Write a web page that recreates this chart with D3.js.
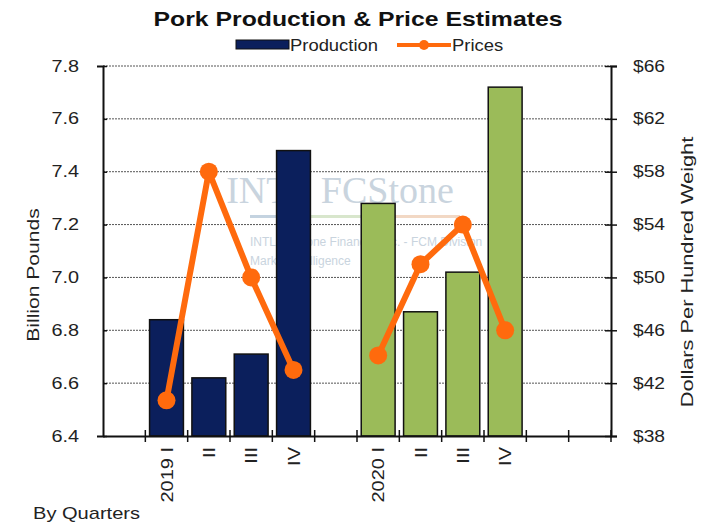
<!DOCTYPE html>
<html>
<head>
<meta charset="utf-8">
<script src="https://cdn.jsdelivr.net/npm/d3@7"></script>
<style>
  body { margin: 0; background: #fff; }
  svg { font-family: "Liberation Sans", Arial, sans-serif; }
</style>
</head>
<body>
<svg width="707" height="524"></svg>
<script>
// quarters incl. the empty slots of the original chart
const quarters = ["s0", "2019 I", "II", "III", "IV", "s5", "2020 I", "II ", "III ", "IV ", "s10", "s11"];
const quarterLabels = ["", "2019 I", "II", "III", "IV", "", "2020 I", "II", "III", "IV", "", ""];
const production = [null, 6.84, 6.62, 6.71, 7.48, null, 7.28, 6.87, 7.02, 7.72, null, null];
const prices = [null, 40.7, 58.0, 50.0, 43.0, null, 44.1, 51.0, 54.0, 46.0, null, null];
const leftTicks = [6.4, 6.6, 6.8, 7.0, 7.2, 7.4, 7.6, 7.8];
const rightTicks = [38, 42, 46, 50, 54, 58, 62, 66];

const svg = d3.select("svg");
const plotL = 103, plotR = 611, plotT = 66, plotB = 436;

// the source font is wider than Liberation Sans, so widen text along its baseline
function stretch(sel, k) {
  sel.each(function() {
    const w = this.getComputedTextLength();
    d3.select(this).attr("textLength", w * k).attr("lengthAdjust", "spacingAndGlyphs");
  });
}

const x = d3.scaleBand().domain(quarters).range([plotL, plotR]).paddingInner(0.2).paddingOuter(0.1);
const xSlot = d3.scaleBand().domain(quarters).range([plotL, plotR]);
const y = d3.scaleLinear().domain([6.4, 7.8]).range([plotB, plotT]);
const y2 = d3.scaleLinear().domain([38, 66]).range([plotB, plotT]);

// watermark
const wm = svg.append("g").attr("fill", "#c9d4de");
wm.append("text").attr("x", 340).attr("y", 203).attr("text-anchor", "middle")
  .style("font-family", "'Liberation Serif', serif").style("font-size", "38px")
  .text("INTL FCStone");
wm.append("text").attr("x", 250).attr("y", 246).style("font-size", "12px")
  .text("INTL FCStone Financial Inc. - FCM Division");
wm.append("text").attr("x", 250).attr("y", 265).style("font-size", "12px")
  .text("Market Intelligence");
[["#c4d3e0", 250, 300], ["#d8e6cc", 300, 380], ["#f2d8c4", 380, 460]].forEach(function(c) {
  wm.append("rect").attr("x", c[1]).attr("y", 215).attr("width", c[2] - c[1]).attr("height", 3).attr("fill", c[0]);
});

// gridlines
svg.append("g").selectAll("line")
  .data(leftTicks.slice(1))
  .join("line")
    .attr("x1", plotL).attr("x2", plotR)
    .attr("y1", d => y(d)).attr("y2", d => y(d))
    .attr("stroke", "#555").attr("stroke-width", 1).attr("stroke-dasharray", "2,1");

// bars
svg.append("g").selectAll("rect")
  .data(quarters.map((q, i) => ({ q: q, v: production[i], i: i })).filter(d => d.v != null))
  .join("rect")
    .attr("x", d => x(d.q))
    .attr("width", x.bandwidth())
    .attr("y", d => y(d.v))
    .attr("height", d => plotB - y(d.v))
    .attr("fill", d => d.i < 5 ? "#0b1f5c" : "#9bbb59")
    .attr("stroke", "#111").attr("stroke-width", 1.5);

// axes
const axL = svg.append("g").attr("transform", `translate(${plotL},0)`)
  .call(d3.axisLeft(y).tickValues(leftTicks).tickFormat(d3.format(".1f")).tickSize(6).tickPadding(18));
const axR = svg.append("g").attr("transform", `translate(${plotR},0)`)
  .call(d3.axisRight(y2).tickValues(rightTicks).tickFormat(d => "$" + d).tickSize(6).tickPadding(16));
const axB = svg.append("g").attr("transform", `translate(0,${plotB})`)
  .call(d3.axisBottom(xSlot).tickValues([]).tickSizeOuter(0));
[axL, axR, axB].forEach(function(a) {
  a.selectAll("path.domain").attr("stroke", "#111").attr("stroke-width", 2);
  a.selectAll(".tick line").attr("stroke", "#111").attr("stroke-width", 1.5);
  a.selectAll("text").attr("fill", "#222").style("font-size", "16px");
});
axR.selectAll(".tick line").attr("x1", -6);
axL.selectAll(".tick line").attr("x2", 4);
stretch(axL.selectAll("text"), 1.24);
stretch(axR.selectAll("text"), 1.2);

// category ticks and labels on slot boundaries
const boundaries = quarters.slice(1).map(q => xSlot(q)).concat([plotR]);
svg.append("g").selectAll("line")
  .data(boundaries)
  .join("line")
    .attr("x1", d => d).attr("x2", d => d)
    .attr("y1", plotB - 6).attr("y2", plotB + 6)
    .attr("stroke", "#111").attr("stroke-width", 1.5);
const xLabels = svg.append("g").selectAll("text")
  .data(quarters.map((q, i) => ({ q: q, label: quarterLabels[i] })).filter(d => d.label))
  .join("text")
    .attr("transform", d => `translate(${xSlot(d.q) + xSlot.bandwidth() / 2 + 6},447) rotate(-90)`)
    .attr("text-anchor", "end")
    .attr("fill", "#222").style("font-size", "16px")
    .text(d => d.label);
stretch(xLabels, 1.25);

// price line
const pts = quarters.map((q, i) => ({ q: q, v: prices[i] })).filter(d => d.v != null);
const line = d3.line().x(d => xSlot(d.q) + xSlot.bandwidth() / 2).y(d => y2(d.v));
[pts.slice(0, 4), pts.slice(4)].forEach(function(seg) {
  svg.append("path").datum(seg).attr("d", line)
    .attr("fill", "none").attr("stroke", "#ff6a0d").attr("stroke-width", 6).attr("stroke-linejoin", "round");
});
svg.append("g").selectAll("circle")
  .data(pts)
  .join("circle")
    .attr("cx", d => xSlot(d.q) + xSlot.bandwidth() / 2)
    .attr("cy", d => y2(d.v))
    .attr("r", 9)
    .attr("fill", "#ff6a0d");

// titles
const title = svg.append("text").attr("x", 358).attr("y", 26).attr("text-anchor", "middle")
  .attr("fill", "#111").style("font-size", "21px").style("font-weight", "bold")
  .text("Pork Production & Price Estimates");
stretch(title, 1.18);
const yTitleL = svg.append("text").attr("transform", "translate(39,275) rotate(-90)").attr("text-anchor", "middle")
  .attr("fill", "#222").style("font-size", "17px").text("Billion Pounds");
stretch(yTitleL, 1.24);
const yTitleR = svg.append("text").attr("transform", "translate(693,272) rotate(-90)").attr("text-anchor", "middle")
  .attr("fill", "#222").style("font-size", "17px").text("Dollars Per Hundred Weight");
stretch(yTitleR, 1.28);
const xTitle = svg.append("text").attr("x", 33).attr("y", 519)
  .attr("fill", "#222").style("font-size", "17px").text("By Quarters");
stretch(xTitle, 1.18);

// legend
const lg = svg.append("g");
lg.append("rect").attr("x", 236).attr("y", 40).attr("width", 53).attr("height", 9)
  .attr("fill", "#0b1f5c").attr("stroke", "#111").attr("stroke-width", 1);
const lgText1 = lg.append("text").attr("x", 290).attr("y", 51).attr("fill", "#222").style("font-size", "16px").text("Production");
lg.append("line").attr("x1", 397).attr("x2", 451).attr("y1", 45).attr("y2", 45)
  .attr("stroke", "#ff6a0d").attr("stroke-width", 4);
lg.append("circle").attr("cx", 424).attr("cy", 45).attr("r", 5).attr("fill", "#ff6a0d");
const lgText2 = lg.append("text").attr("x", 452).attr("y", 51).attr("fill", "#222").style("font-size", "16px").text("Prices");
stretch(lgText1, 1.15);
stretch(lgText2, 1.15);
</script>
</body>
</html>
